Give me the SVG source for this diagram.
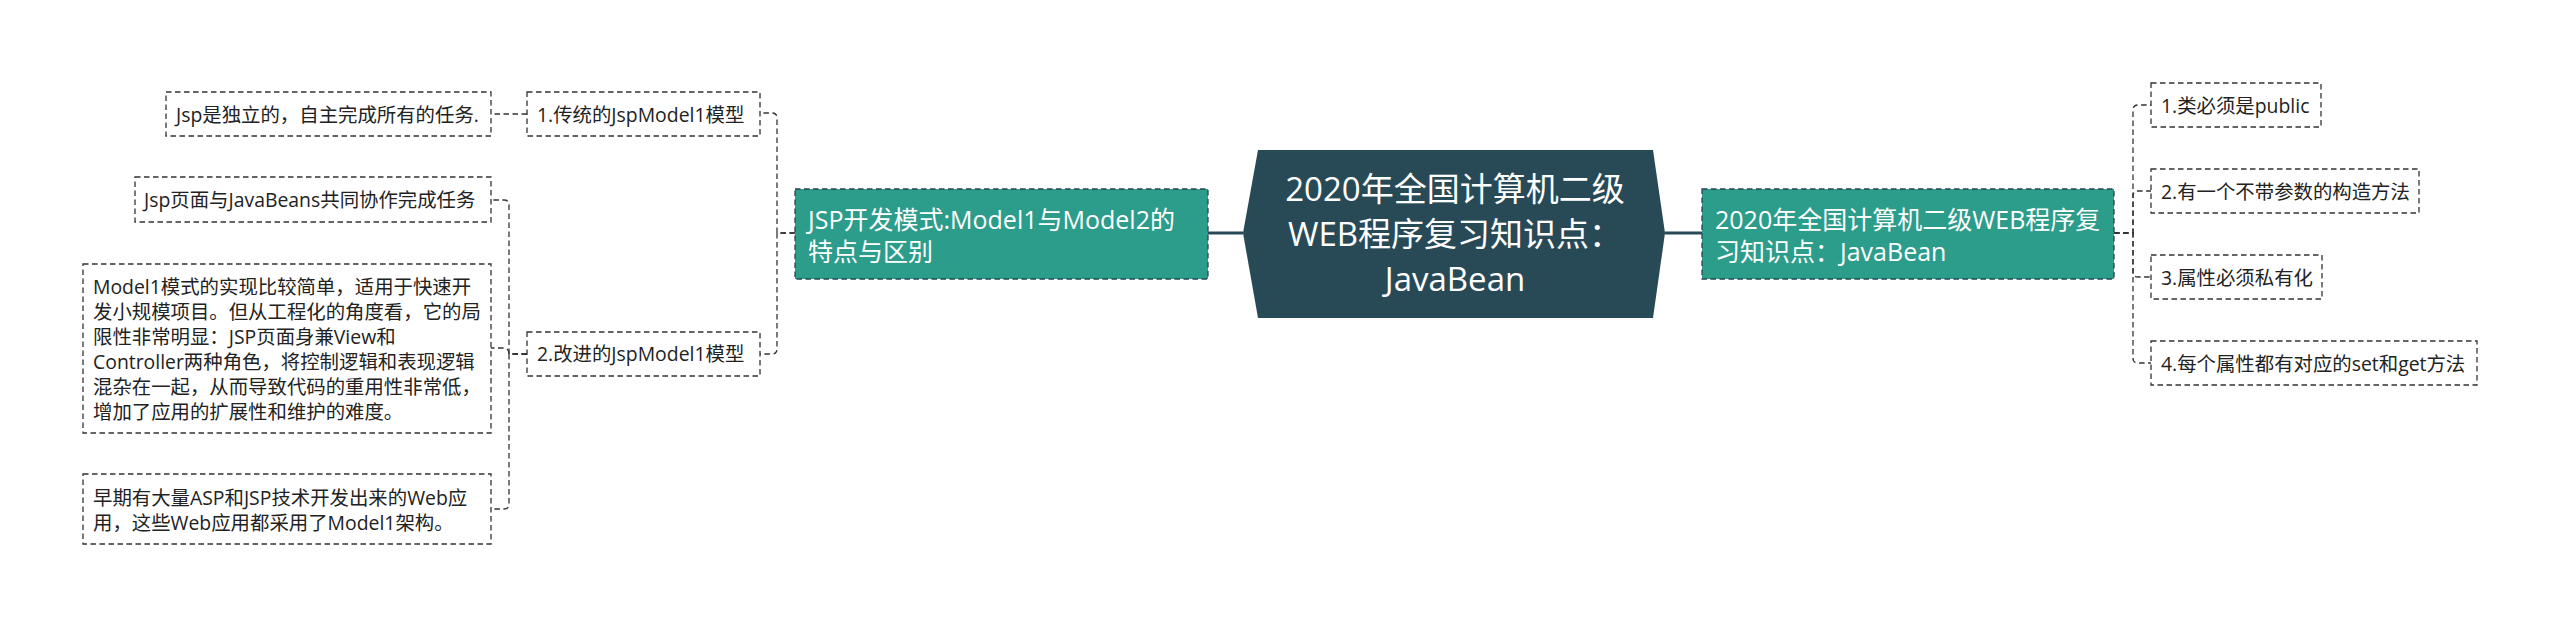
<svg xmlns="http://www.w3.org/2000/svg" width="2560" height="627" viewBox="0 0 2560 627">
<style>
  .leaf { fill: #ffffff; stroke: #333333; stroke-width: 1.3; stroke-dasharray: 5.5 3.5; }
  .main { fill: #2c9c8b; stroke: #264653; stroke-width: 1.3; stroke-dasharray: 5.5 3.5; }
  .root { fill: #284a57; }
  .t { font-family: 'Open Sans', 'Noto Sans CJK SC', sans-serif; font-size: 19.4px; fill: #222222; }
  .tm { font-family: 'Open Sans', 'Noto Sans CJK SC', sans-serif; font-size: 25px; fill: #ffffff; }
  .tr { font-family: 'Open Sans', 'Noto Sans CJK SC', sans-serif; font-size: 33px; fill: #ffffff; text-anchor: middle; }
  .c { fill: none; stroke: #333333; stroke-width: 1.3; stroke-dasharray: 5.5 3.5; }
  .cm { fill: none; stroke: #284a57; stroke-width: 3; }
</style>
<rect width="2560" height="627" fill="#ffffff"/>
<g id="connectors">
  <path class="cm" d="M1243,233 H1208"/>
  <path class="cm" d="M1665,233 H1702"/>
  <path class="c" d="M795,233 H777 V118 Q777,113 772,113 H760"/>
  <path class="c" d="M795,233 H777 V349 Q777,354 772,354 H760"/>
  <path class="c" d="M527,114 H491"/>
  <path class="c" d="M527,354 H509 V205 Q509,200 504,200 H491"/>
  <path class="c" d="M527,354 H509 Q509,348 503,348 H491"/>
  <path class="c" d="M527,354 H509 V504 Q509,509 504,509 H491"/>
  <path class="c" d="M2114,233 H2133 V110 Q2133,105 2138,105 H2151"/>
  <path class="c" d="M2114,233 H2133 V196 Q2133,191 2138,191 H2151"/>
  <path class="c" d="M2114,233 H2133 V272 Q2133,277 2138,277 H2151"/>
  <path class="c" d="M2114,233 H2133 V358 Q2133,363 2138,363 H2151"/>
</g>
<g id="root">
  <polygon class="root" points="1258,150 1653,150 1665,233 1653,318 1258,318 1243,233"/>
  <text class="tr" x="1455" y="201">2020年全国计算机二级</text>
  <text class="tr" x="1455" y="246">WEB程序复习知识点：</text>
  <text class="tr" x="1455" y="291">JavaBean</text>
</g>
<g id="left-main">
  <rect class="main" x="795" y="189" width="413" height="90"/>
  <text class="tm" x="808" y="228.5">JSP开发模式:Model1与Model2的</text>
  <text class="tm" x="808" y="260.5">特点与区别</text>
</g>
<g id="right-main">
  <rect class="main" x="1702" y="189" width="412" height="90"/>
  <text class="tm" x="1715" y="228.5">2020年全国计算机二级WEB程序复</text>
  <text class="tm" x="1715" y="260.5">习知识点：JavaBean</text>
</g>
<g id="model1-traditional">
  <rect class="leaf" x="527" y="92" width="233" height="44"/>
  <text class="t" x="537" y="121.5">1.传统的JspModel1模型</text>
</g>
<g id="jsp-independent">
  <rect class="leaf" x="166" y="92" width="325" height="44"/>
  <text class="t" x="176" y="121.5">Jsp是独立的，自主完成所有的任务.</text>
</g>
<g id="model1-improved">
  <rect class="leaf" x="527" y="332" width="233" height="44"/>
  <text class="t" x="537" y="361.4">2.改进的JspModel1模型</text>
</g>
<g id="jsp-javabeans">
  <rect class="leaf" x="135" y="177" width="356" height="45"/>
  <text class="t" x="144" y="207.4">Jsp页面与JavaBeans共同协作完成任务</text>
</g>
<g id="model1-desc">
  <rect class="leaf" x="83" y="264" width="408" height="169"/>
  <text class="t" x="93" y="294.4">Model1模式的实现比较简单，适用于快速开</text>
  <text class="t" x="93" y="319.4">发小规模项目。但从工程化的角度看，它的局</text>
  <text class="t" x="93" y="344.4">限性非常明显：JSP页面身兼View和</text>
  <text class="t" x="93" y="369.4">Controller两种角色，将控制逻辑和表现逻辑</text>
  <text class="t" x="93" y="394.4">混杂在一起，从而导致代码的重用性非常低，</text>
  <text class="t" x="93" y="419.4">增加了应用的扩展性和维护的难度。</text>
</g>
<g id="early-web">
  <rect class="leaf" x="83" y="474" width="408" height="70"/>
  <text class="t" x="93" y="505.4">早期有大量ASP和JSP技术开发出来的Web应</text>
  <text class="t" x="93" y="530.4">用，这些Web应用都采用了Model1架构。</text>
</g>
<g id="r1">
  <rect class="leaf" x="2151" y="83" width="170" height="44"/>
  <text class="t" x="2161" y="113">1.类必须是public</text>
</g>
<g id="r2">
  <rect class="leaf" x="2151" y="169" width="268" height="44"/>
  <text class="t" x="2161" y="199">2.有一个不带参数的构造方法</text>
</g>
<g id="r3">
  <rect class="leaf" x="2151" y="255" width="171" height="44"/>
  <text class="t" x="2161" y="284.5">3.属性必须私有化</text>
</g>
<g id="r4">
  <rect class="leaf" x="2151" y="341" width="326" height="44"/>
  <text class="t" x="2161" y="370.5">4.每个属性都有对应的set和get方法</text>
</g>
</svg>
